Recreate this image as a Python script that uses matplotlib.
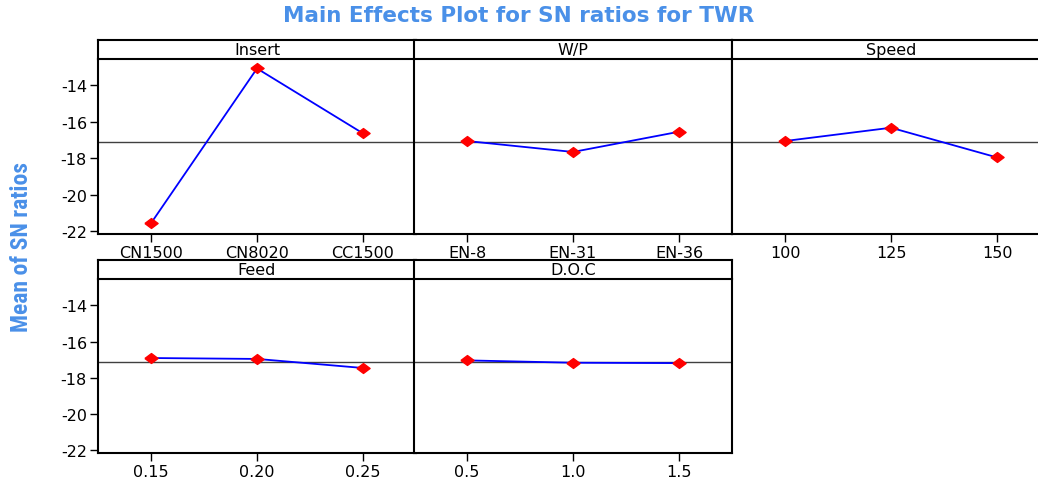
import matplotlib
matplotlib.use("Agg")
import matplotlib.pyplot as plt
from matplotlib import font_manager
import numpy as np

plt.rcParams['axes.unicode_minus'] = False
plt.rcParams['font.family'] = ['DejaVu Sans']

# ---- data ----
factors = ["Insert", "W/P", "Speed", "Feed", "D.O.C"]
insert_levels = ["CN1500", "CN8020", "CC1500"]
insert_sn = [-21.56, -13.07, -16.63]
wp_levels = ["EN-8", "EN-31", "EN-36"]
wp_sn = [-17.05, -17.65, -16.54]
speed_levels = ["100", "125", "150"]
speed_sn = [-17.05, -16.32, -17.95]
feed_levels = ["0.15", "0.20", "0.25"]
feed_sn = [-16.91, -16.96, -17.46]
doc_levels = ["0.5", "1.0", "1.5"]
doc_sn = [-17.04, -17.17, -17.19]
yticks = [-14, -16, -18, -20, -22]

levels = [insert_levels, wp_levels, speed_levels, feed_levels, doc_levels]
values = [insert_sn, wp_sn, speed_sn, feed_sn, doc_sn]
grand_mean = float(np.mean(np.concatenate([np.array(v) for v in values])))

W, H = 1038, 481
fig = plt.figure(figsize=(W / 100, H / 100), dpi=100)
fig.patch.set_facecolor("white")

def fx(px):
    return px / W

def fy(py):
    return 1 - py / H

col_x = [98, 414, 732]
col_w = 318
rows = [(41, 60, 235), (261, 280, 454)]  # header top, header bottom / data top, data bottom

title_color = "#4A90E8"
fig.text(fx(519), fy(16), "Main Effects Plot for SN ratios for TWR", color=title_color,
         fontsize=15.5, fontweight="bold", ha="center", va="center", family="DejaVu Sans")

avail = {f.name for f in font_manager.fontManager.ttflist}
ylab_family = [f for f in ["Liberation Sans Narrow", "Roboto Condensed", "Liberation Sans"] if f in avail] + ["DejaVu Sans"]
fig.text(fx(22), fy(247), "Mean of SN ratios", color=title_color, fontsize=17,
         fontweight="bold", rotation=90, ha="center", va="center", family=ylab_family)

diamond = [(-1, 0), (0, 0.75), (1, 0), (0, -0.75), (-1, 0)]

for i, (name, lv, val) in enumerate(zip(factors, levels, values)):
    r, c = divmod(i, 3)
    htop, hbot, dbot = rows[r]
    x0 = col_x[c]
    ax = fig.add_axes([fx(x0), fy(dbot), fx(col_w), (dbot - hbot) / H])
    hax = fig.add_axes([fx(x0), fy(hbot), fx(col_w), (hbot - htop) / H])
    hax.set_xticks([]); hax.set_yticks([])
    for s in hax.spines.values():
        s.set_linewidth(1.5); s.set_color("black")
    hax.text(0.5, 0.5, name, ha="center", va="center", fontsize=11.5, transform=hax.transAxes)

    x = np.arange(len(lv))
    ax.axhline(grand_mean, color="#404040", lw=1.0, zorder=1)
    ax.plot(x, val, color="#0000FF", lw=1.3, zorder=2)
    ax.plot(x, val, linestyle="none", marker=diamond, ms=9.5, color="#FF0000",
            markeredgecolor="#FF0000", zorder=3)
    ax.set_xlim(-0.5, 2.5)
    ax.set_ylim(-22.15, -12.55)
    ax.set_xticks(x)
    ax.set_xticklabels(lv, fontsize=11.5)
    ax.set_yticks(yticks)
    if c == 0:
        ax.set_yticklabels([str(t) for t in yticks], fontsize=11.5)
        ax.tick_params(axis="y", length=6, width=1, pad=2, direction="out")
    else:
        ax.tick_params(axis="y", left=False, labelleft=False)
    ax.tick_params(axis="x", length=6, width=1, pad=2, direction="out")
    for s in ax.spines.values():
        s.set_linewidth(1.5); s.set_color("black")
    ax.spines["top"].set_visible(False)

fig.savefig("out.png", dpi=100, facecolor="white")
